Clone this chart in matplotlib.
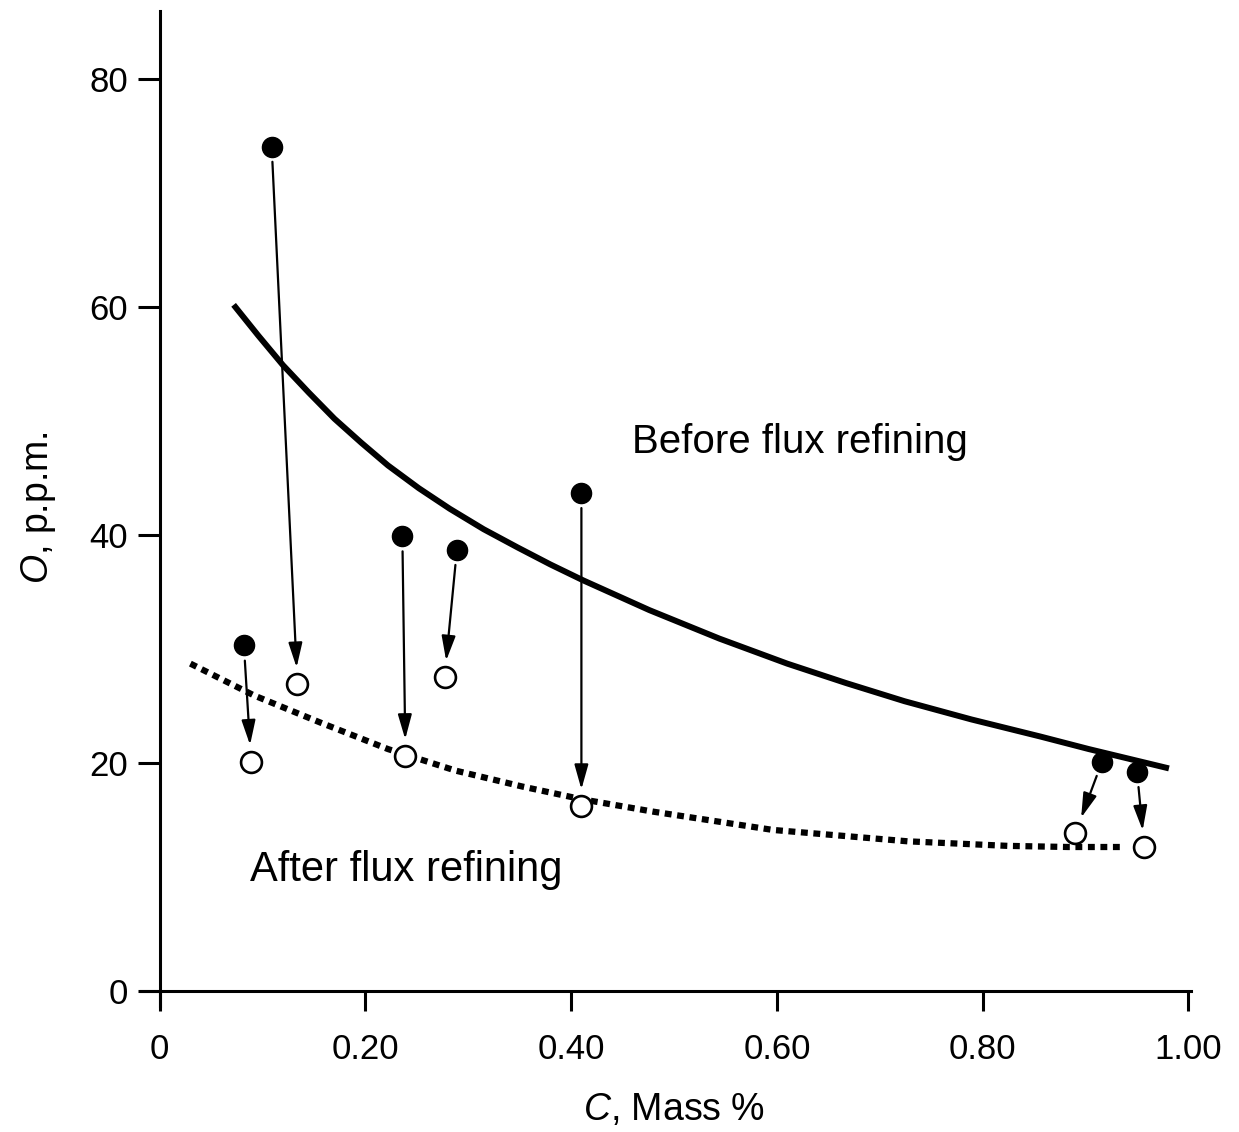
import matplotlib
matplotlib.use("Agg")
import matplotlib.pyplot as plt

plt.rcParams['font.family'] = ['Liberation Sans', 'DejaVu Sans']
plt.rcParams['mathtext.fontset'] = 'custom'
plt.rcParams['mathtext.rm'] = 'Liberation Sans'
plt.rcParams['mathtext.it'] = 'Liberation Sans:italic'

# ---- data (C in mass %, O in p.p.m.) ----
before_c = [0.082, 0.109, 0.236, 0.289, 0.410, 0.916, 0.950]
before_o = [30.3, 74.1, 39.9, 38.7, 43.7, 20.1, 19.2]

after_c = [0.089, 0.134, 0.239, 0.277, 0.410, 0.890, 0.957]
after_o = [20.1, 26.9, 20.6, 27.5, 16.2, 13.8, 12.6]

before_curve_c = [0.072, 0.096, 0.120, 0.145, 0.170, 0.196, 0.222, 0.252,
                  0.282, 0.315, 0.348, 0.380, 0.412, 0.476, 0.544, 0.610,
                  0.667, 0.724, 0.789, 0.856, 0.903, 0.981]
before_curve_o = [60.2, 57.5, 54.9, 52.5, 50.2, 48.1, 46.1, 44.1,
                  42.3, 40.5, 38.9, 37.4, 36.0, 33.4, 30.9, 28.7,
                  27.0, 25.4, 23.8, 22.3, 21.2, 19.5]

after_curve_c = [0.030, 0.092, 0.157, 0.222, 0.288, 0.353, 0.410, 0.480,
                 0.596, 0.727, 0.824, 0.883, 0.938]
after_curve_o = [28.7, 25.9, 23.5, 21.2, 19.3, 17.9, 16.8, 15.7,
                 14.1, 13.1, 12.7, 12.6, 12.6]

x_ticks = [0, 0.2, 0.4, 0.6, 0.8, 1.0]
x_ticklabels = ["0", "0.20", "0.40", "0.60", "0.80", "1.00"]
y_ticks = [0, 20, 40, 60, 80]
y_ticklabels = ["0", "20", "40", "60", "80"]

# ---- figure ----
fig = plt.figure(figsize=(12.39, 11.32), dpi=100)
ax = fig.add_axes([0.1138, 0.1109, 0.8471, 0.8794])
ax.set_xlim(-0.018, 1.002)
ax.set_ylim(-1.4, 86)

ax.spines['left'].set_position(('data', 0))
ax.spines['bottom'].set_position(('data', 0))
ax.spines['top'].set_visible(False)
ax.spines['right'].set_visible(False)
for s in ('left', 'bottom'):
    ax.spines[s].set_linewidth(2.2)

ax.set_xticks(x_ticks)
ax.set_xticklabels(x_ticklabels)
ax.set_yticks(y_ticks)
ax.set_yticklabels(y_ticklabels)
ax.tick_params(axis='y', direction='out', length=15.5, width=2.2, pad=7, labelsize=25)
ax.tick_params(axis='x', direction='out', length=14.4, width=2.2, pad=16, labelsize=25)

# curves
ax.plot(before_curve_c, before_curve_o, color='black', lw=4.3,
        solid_capstyle='butt', solid_joinstyle='round', zorder=2)
ax.plot(after_curve_c, after_curve_o, color='black', lw=4.5,
        linestyle=(0, (1.1, 0.9)), dash_capstyle='butt', zorder=2)

# arrows before -> after
for bc, bo, ac, ao in zip(before_c, before_o, after_c, after_o):
    ax.annotate('', xy=(ac, ao), xytext=(bc, bo),
                arrowprops=dict(arrowstyle='-|>,head_length=0.75,head_width=0.21',
                                lw=1.6, color='black', shrinkA=11, shrinkB=12,
                                mutation_scale=20),
                zorder=3)

# points
ax.plot(before_c, before_o, linestyle='none', marker='o', ms=14.5,
        mfc='black', mec='black', zorder=4)
ax.plot(after_c, after_o, linestyle='none', marker='o', ms=15,
        mfc='white', mec='black', mew=1.9, zorder=4)

# annotations
ax.text(0.622, 48.2, "Before flux refining", fontsize=29, ha='center', va='center')
ax.text(0.240, 10.6, "After flux refining", fontsize=30, ha='center', va='center')

fig.text(674 / 1239, 1 - 1110 / 1132, r"$\mathit{C}$, Mass %", fontsize=27,
         ha='center', va='center')
fig.text(38 / 1239, 1 - 508 / 1132, r"$\mathit{O}$, p.p.m.", fontsize=27,
         ha='center', va='center', rotation=90)

fig.savefig("out.png", dpi=100)
